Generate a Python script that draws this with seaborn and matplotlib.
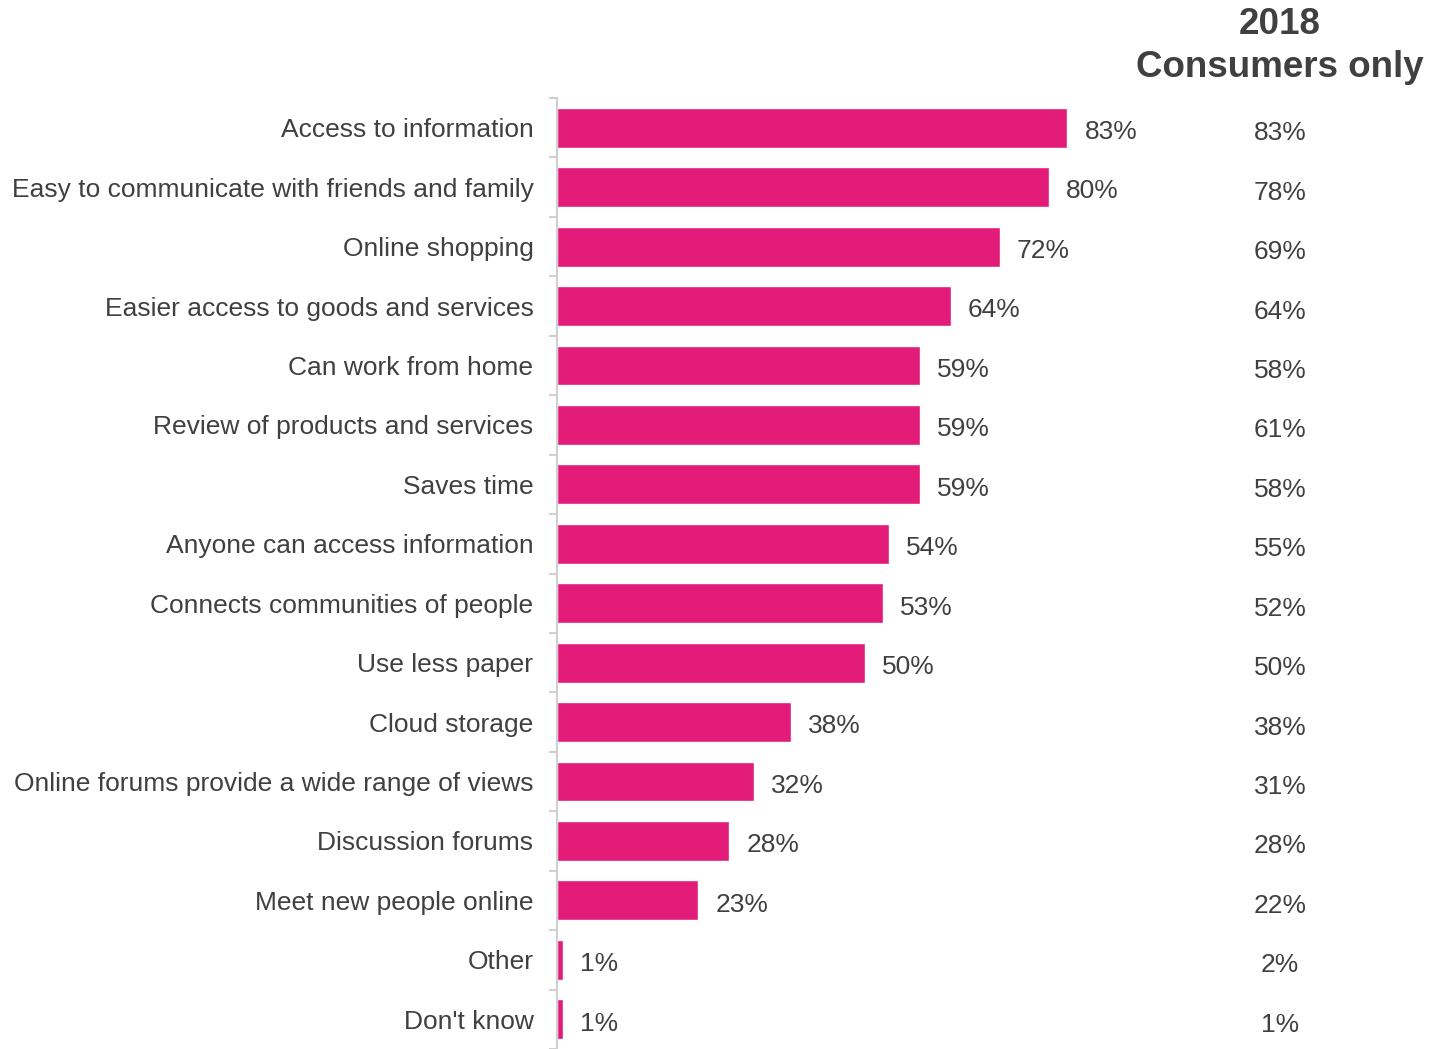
import matplotlib
matplotlib.use("Agg")
import matplotlib.pyplot as plt
import matplotlib.transforms as mtransforms
import seaborn as sns
import pandas as pd
import numpy as np

categories = [
    "Access to information",
    "Easy to communicate with friends and family",
    "Online shopping",
    "Easier access to goods and services",
    "Can work from home",
    "Review of products and services",
    "Saves time",
    "Anyone can access information",
    "Connects communities of people",
    "Use less paper",
    "Cloud storage",
    "Online forums provide a wide range of views",
    "Discussion forums",
    "Meet new people online",
    "Other",
    "Don't know",
]
all_values = [83, 80, 72, 64, 59, 59, 59, 54, 53, 50, 38, 32, 28, 23, 1, 1]
consumers_2018 = [83, 78, 69, 64, 58, 61, 58, 55, 52, 50, 38, 31, 28, 22, 2, 1]
column_title = "2018\nConsumers only"

df = pd.DataFrame({"category": categories, "value": all_values})

sns.set_theme(style="white")
plt.rcParams["font.family"] = ["Liberation Sans", "DejaVu Sans"]

text_color = "#404040"
bar_color = "#E31C79"
axis_color = "#d0d0d0"

fig = plt.figure(figsize=(14.29, 10.49), dpi=100)
ax = fig.add_axes([557 / 1429, 0.0, 615 / 1429, 1 - 98 / 1049])

sns.barplot(data=df, y="category", x="value", orient="h", color=bar_color,
            width=0.67, saturation=1, ax=ax)

ax.set_xlim(0, 100)
ax.set_ylim(15.44, -0.5)
ax.set_xlabel("")
ax.set_ylabel("")
ax.set_xticks([])

for side in ["top", "right", "bottom"]:
    ax.spines[side].set_visible(False)
ax.spines["left"].set_color(axis_color)
ax.spines["left"].set_linewidth(1.5)

ax.tick_params(axis="y", which="major", left=False, length=0, pad=17,
               labelsize=19, labelcolor=text_color)
ax.set_yticks(np.arange(-0.5, len(categories), 1.0), minor=True)
ax.tick_params(axis="y", which="minor", left=True, length=6, width=1.5,
               color=axis_color, direction="out")

for i, v in enumerate(all_values):
    ax.text(v + 2.8, i + 0.03, f"{v}%", va="center_baseline", ha="left",
            fontsize=19, color=text_color)

trans = mtransforms.blended_transform_factory(fig.transFigure, ax.transData)
for i, v in enumerate(consumers_2018):
    ax.text(1280 / 1429, i + 0.05, f"{v}%", va="center_baseline", ha="center",
            fontsize=19, color=text_color, transform=trans, clip_on=False)

fig.text(1280 / 1429, 1 - 46 / 1049, column_title, ha="center", va="center",
         fontsize=26.5, fontweight="bold", color=text_color, linespacing=1.3)

fig.savefig("out.png", dpi=100)
